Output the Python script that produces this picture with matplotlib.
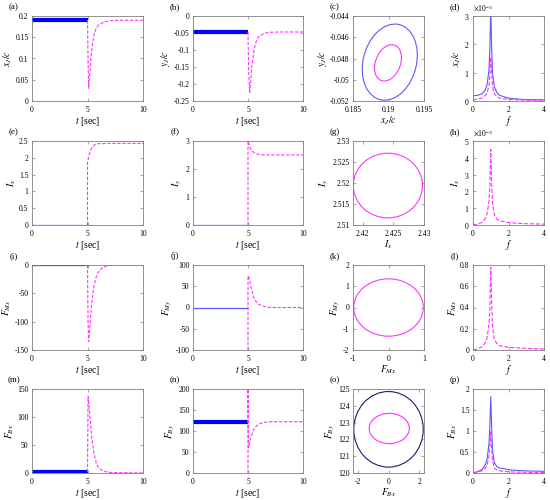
import numpy as np
import matplotlib
matplotlib.use("Agg")
import matplotlib.pyplot as plt
from matplotlib.patches import Ellipse

plt.rcParams['font.family'] = ['Liberation Serif', 'DejaVu Serif']
plt.rcParams['mathtext.fontset'] = 'stix'
plt.rcParams['font.size'] = 6

BLUE = '#0000ff'
LBLUE = '#5a5aff'
MAG = '#ff33ff'
NAVY = '#1c1c6a'

# ---------------- data ----------------
t_pre = [0, 5]
# (a) x_J/c
a_band = 0.19
a_t = [5.0, 5.05, 5.1, 5.2, 5.3, 5.45, 5.6, 5.8, 6.0, 6.5, 7.0, 8.0, 10.0]
a_y = [0.19, 0.10, 0.03, 0.06, 0.10, 0.135, 0.157, 0.172, 0.179, 0.186, 0.189, 0.19, 0.19]
# (b) y_J/c
b_band = -0.047
b_t = [5.0, 5.05, 5.15, 5.25, 5.35, 5.5, 5.65, 5.8, 6.0, 6.5, 7.0, 8.0, 10.0]
b_y = [-0.047, -0.15, -0.225, -0.19, -0.15, -0.11, -0.085, -0.07, -0.06, -0.05, -0.048, -0.047, -0.047]
# (e) I_x
e_t = [5.0, 5.0, 5.05, 5.2, 5.4, 5.7, 6.0, 7.0, 10.0]
e_y = [0.0, 1.85, 1.95, 2.15, 2.32, 2.40, 2.42, 2.43, 2.43]
# (f) I_y
f_t = [5.0, 5.0, 5.05, 5.2, 5.4, 5.7, 6.0, 6.5, 7.0, 10.0]
f_y = [0.0, 3.0, 2.92, 2.75, 2.63, 2.55, 2.52, 2.5, 2.5, 2.5]
# (i) F_Mx
i_t = [5.0, 5.05, 5.1, 5.2, 5.3, 5.45, 5.6, 5.8, 6.0, 6.3, 6.7, 7.0, 10.0]
i_y = [0.0, -100, -135, -115, -85, -55, -35, -20, -12, -5, -2, 0, 0]
# (j) F_My
j_t = [5.0, 5.0, 5.1, 5.3, 5.5, 5.75, 6.0, 6.5, 7.0, 10.0]
j_y = [-100, 75, 70, 45, 25, 13, 7, 2, 0, 0]
# (m) F_Bx
m_band = 2.0
m_t = [5.0, 5.05, 5.1, 5.2, 5.4, 5.6, 5.8, 6.0, 6.5, 7.0, 10.0]
m_y = [2.0, 137, 130, 105, 60, 33, 17, 9, 3, 1, 0]
# (n) F_By
n_band = 122.0
n_t = [5.0, 5.0, 5.05, 5.2, 5.5, 5.8, 6.0, 6.5, 7.0, 10.0]
n_y = [0.0, 200, 60, 80, 103, 113, 117, 121, 122, 122]

# phase portraits: [cx, cy, width, height, angle]
c_blue = [0.19018, -0.048345, 0.00819, 0.00667, 33.5]
c_mag = [0.18993, -0.04841, 0.00412, 0.00302, 35.0]
g_mag = [2.4241, 2.5194, 0.0113, 0.0154, 0.0]
k_mag = [0.0, 0.0, 1.96, 2.70, 0.0]
o_out = [0.0, 122.6, 4.5, 4.5, 0.0]
o_mag = [0.05, 122.65, 2.6, 1.8, 0.0]

# spectra
freq = [0, 0.25, 0.5, 0.7, 0.8, 0.9, 0.95, 1.0, 1.05, 1.1, 1.2, 1.35, 1.5, 2.0, 2.5, 3.0, 4.0]
d_blue = [0.18, 0.2, 0.25, 0.4, 0.6, 1.1, 1.8, 3.3, 1.9, 1.0, 0.5, 0.3, 0.2, 0.1, 0.07, 0.05, 0.04]
d_mag = [0.05, 0.07, 0.1, 0.2, 0.3, 0.55, 0.9, 1.55, 1.0, 0.5, 0.25, 0.15, 0.1, 0.06, 0.04, 0.03, 0.02]
h_mag = [0.0, 0.05, 0.15, 0.4, 0.7, 1.4, 2.3, 4.5, 2.5, 1.3, 0.6, 0.35, 0.25, 0.15, 0.1, 0.08, 0.05]
l_mag = [0.0, 0.01, 0.03, 0.07, 0.12, 0.24, 0.4, 0.78, 0.45, 0.22, 0.1, 0.06, 0.04, 0.025, 0.02, 0.015, 0.01]
p_blue = [0.0, 0.03, 0.08, 0.2, 0.35, 0.7, 1.1, 1.82, 1.1, 0.55, 0.25, 0.15, 0.12, 0.08, 0.06, 0.05, 0.04]
p_mag = [0.0, 0.02, 0.05, 0.12, 0.2, 0.4, 0.6, 1.0, 0.6, 0.3, 0.12, 0.07, 0.05, 0.03, 0.02, 0.015, 0.01]

# ---------------- layout ----------------
fig = plt.figure(figsize=(5.5, 5.0), dpi=100)
W, H = 550.0, 500.0
cols = [(32, 143), (193, 303), (353, 424), (473, 544)]
rows = [(16, 101), (141, 225), (265, 350), (389, 473)]
letters = 'abcdefghijklmnop'
axes = []
for r, (top, bot) in enumerate(rows):
    for c, (l, rr) in enumerate(cols):
        ax = fig.add_axes([l / W, 1 - bot / H, (rr - l) / W, (bot - top) / H])
        for s in ax.spines.values():
            s.set_color('#808080')
            s.set_linewidth(0.6)
        ax.tick_params(direction='in', length=2, width=0.5, top=True, right=True,
                       labelsize=5.5, colors='#808080', labelcolor='black')
        ax.tick_params(axis='x', pad=3.5)
        ax.tick_params(axis='y', pad=2.5)
        fig.text((l - 18) / W, 1 - (top - 9) / H, '(%s)' % letters[4 * r + c],
                 fontsize=6.5, ha='center', va='center')
        axes.append(ax)


def tseries(ax, band, bt, by, ylim, yticks, ylabel, band_lw=3.0, bcol=BLUE):
    if band is not None:
        ax.plot(t_pre, [band, band], color=bcol, lw=band_lw, solid_capstyle='butt')
    ax.plot(bt, by, '--', color=MAG, lw=0.8, dashes=(3, 1.5))
    ax.set_xlim(0, 10)
    ax.set_ylim(*ylim)
    ax.set_xticks([0, 5, 10])
    ax.set_yticks(yticks)
    ax.set_yticklabels(['%g' % v for v in yticks])
    ax.set_xlabel(r'$t$ [sec]', fontsize=7, labelpad=0.5)
    ax.set_ylabel(ylabel, fontsize=7, labelpad=1)


def spectrum(ax, series, ylim, yticks, ylabel, scale=1.0):
    for vals, col, ls in series:
        ax.plot(freq, np.array(vals) * scale, ls, color=col, lw=0.8)
    ax.set_xlim(0, 4)
    ax.set_ylim(*ylim)
    ax.set_xticks([0, 2, 4])
    ax.set_yticks(yticks)
    ax.set_xlabel(r'$f$', fontsize=7, labelpad=0)
    ax.set_ylabel(ylabel, fontsize=7, labelpad=1)


def phase(ax, ells, xlim, ylim, xticks, yticks, xlabel, ylabel):
    for p, col in ells:
        ax.add_patch(Ellipse((p[0], p[1]), p[2], p[3], angle=p[4], fill=False,
                             edgecolor=col, lw=0.8))
    ax.set_xlim(*xlim)
    ax.set_ylim(*ylim)
    ax.set_xticks(xticks)
    ax.set_yticks(yticks)
    ax.set_xticklabels(['%g' % v for v in xticks])
    ax.set_yticklabels(['%g' % v for v in yticks])
    ax.set_xlabel(xlabel, fontsize=7, labelpad=0.5)
    ax.set_ylabel(ylabel, fontsize=7, labelpad=1)


# row 1
tseries(axes[0], a_band, a_t, a_y, (0, 0.2), [0, 0.05, 0.1, 0.15, 0.2], r'$x_J/c$')
tseries(axes[1], b_band, b_t, b_y, (-0.25, 0), [-0.25, -0.2, -0.15, -0.1, -0.05, 0], r'$y_J/c$')
phase(axes[2], [(c_blue, LBLUE), (c_mag, MAG)], (0.185, 0.195), (-0.052, -0.044),
      [0.185, 0.19, 0.195], [-0.052, -0.05, -0.048, -0.046, -0.044], r'$x_J/c$', r'$y_J/c$')
spectrum(axes[3], [(d_blue, LBLUE, '-'), (d_mag, MAG, '--')], (0, 3e-3), [0, 1e-3, 2e-3, 3e-3],
         r'$x_J/c$', scale=1e-3)

# row 2
tseries(axes[4], 0.0, e_t, e_y, (0, 2.5), [0, 0.5, 1, 1.5, 2, 2.5], r'$I_x$', band_lw=0.9, bcol=LBLUE)
tseries(axes[5], 0.0, f_t, f_y, (0, 3), [0, 1, 2, 3], r'$I_y$', band_lw=0.9, bcol=LBLUE)
phase(axes[6], [(g_mag, MAG)], (2.4184, 2.43), (2.51, 2.53),
      [2.42, 2.425, 2.43], [2.51, 2.515, 2.52, 2.525, 2.53], r'$I_x$', r'$I_y$')
spectrum(axes[7], [(h_mag, MAG, '--')], (0, 5e-3), [0, 1e-3, 2e-3, 3e-3, 4e-3, 5e-3],
         r'$I_x$', scale=1e-3)

# row 3
tseries(axes[8], 0.0, i_t, i_y, (-150, 0), [-150, -100, -50, 0], r'$F_{Mx}$', band_lw=0.9, bcol=NAVY)
tseries(axes[9], 0.0, j_t, j_y, (-100, 100), [-100, -50, 0, 50, 100], r'$F_{My}$', band_lw=0.9, bcol=LBLUE)
phase(axes[10], [(k_mag, MAG)], (-1, 1), (-2, 2), [-1, 0, 1], [-2, -1, 0, 1, 2],
      r'$F_{Mx}$', r'$F_{My}$')
spectrum(axes[11], [(l_mag, MAG, '--')], (0, 0.8), [0, 0.2, 0.4, 0.6, 0.8], r'$F_{Mx}$')

# row 4
tseries(axes[12], m_band, m_t, m_y, (0, 150), [0, 50, 100, 150], r'$F_{Bx}$')
tseries(axes[13], n_band, n_t, n_y, (0, 200), [0, 50, 100, 150, 200], r'$F_{By}$')
phase(axes[14], [(o_out, NAVY), (o_mag, MAG)], (-2.3, 2.3), (120, 125), [-2, 0, 2],
      [120, 121, 122, 123, 124, 125], r'$F_{Bx}$', r'$F_{By}$')
spectrum(axes[15], [(p_blue, LBLUE, '-'), (p_mag, MAG, '--')], (0, 2), [0, 0.5, 1, 1.5, 2], r'$F_{Bx}$')

for k in (3, 7):
    ax = axes[k]
    ax.ticklabel_format(axis='y', style='sci', scilimits=(0, 0), useMathText=True)
    ax.yaxis.get_offset_text().set_fontsize(5.5)
for k in (11, 15):
    axes[k].set_yticklabels(['%g' % v for v in axes[k].get_yticks()])

fig.savefig('out.png', dpi=100)
